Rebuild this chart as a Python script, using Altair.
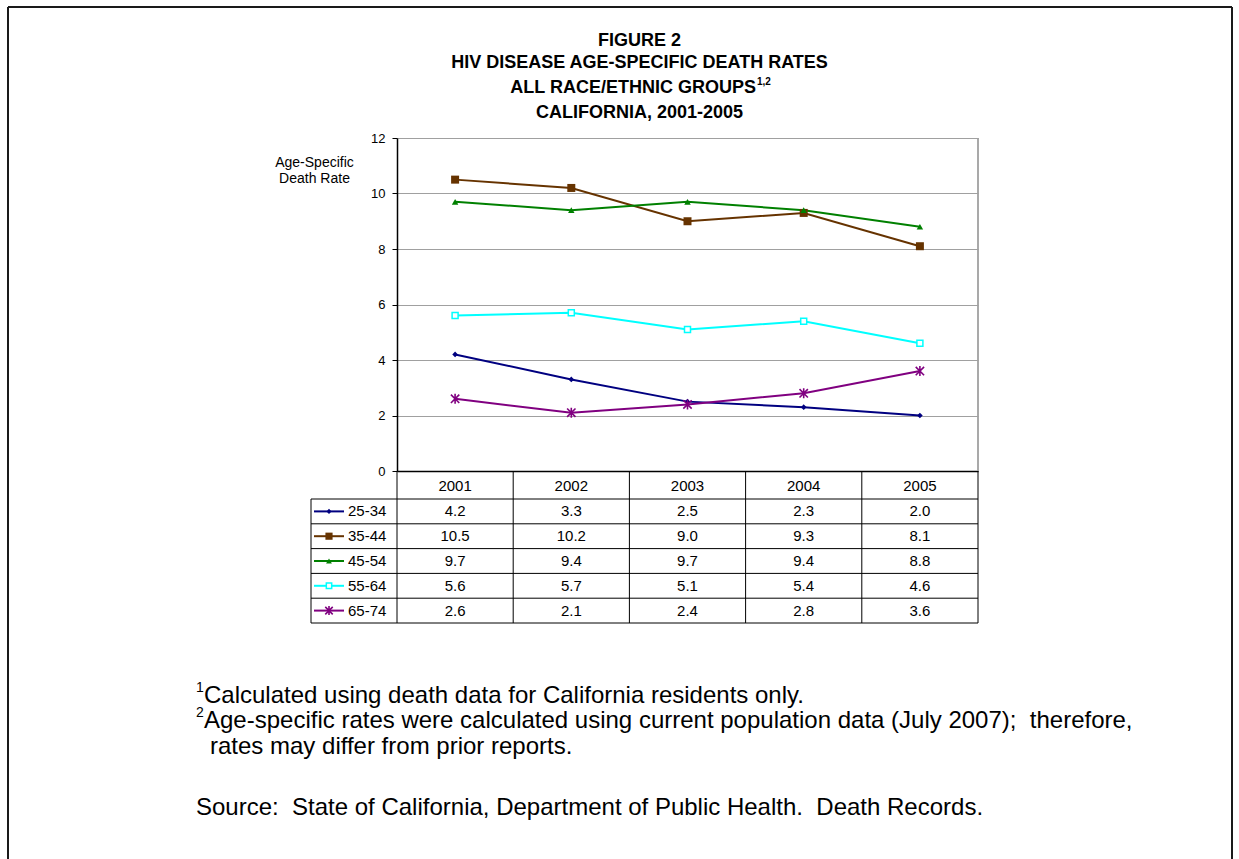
import altair as alt
import pandas as pd

# Age-specific HIV disease death rates, California 2001-2005
years = ["2001", "2002", "2003", "2004", "2005"]
groups = ["25-34", "35-44", "45-54", "55-64", "65-74"]
rate_25_34 = [4.2, 3.3, 2.5, 2.3, 2.0]
rate_35_44 = [10.5, 10.2, 9.0, 9.3, 8.1]
rate_45_54 = [9.7, 9.4, 9.7, 9.4, 8.8]
rate_55_64 = [5.6, 5.7, 5.1, 5.4, 4.6]
rate_65_74 = [2.6, 2.1, 2.4, 2.8, 3.6]
colors = ["#000080", "#663300", "#008000", "#00FFFF", "#800080"]
y_ticks = [0, 2, 4, 6, 8, 10, 12]

series = [rate_25_34, rate_35_44, rate_45_54, rate_55_64, rate_65_74]
df = pd.DataFrame(
    [{"year": y, "group": g, "rate": v}
     for g, vals in zip(groups, series) for y, v in zip(years, vals)]
)
groups_df = pd.DataFrame({"group": groups})
years_df = pd.DataFrame({"year": years})

FONT = "Liberation Sans"
PAGE_W, PAGE_H = 1239, 859
L, T = 397, 138          # plot origin on the page
W, H = 581, 333          # plot area
STEP = W / len(years)

x_scale = alt.Scale(type="point", padding=0.5, domain=years)
x_enc = alt.X(
    "year:O", scale=x_scale,
    axis=alt.Axis(title=None, labels=False, ticks=False, grid=False,
                  domainColor="black", domainWidth=1.5),
)
y_enc = alt.Y(
    "rate:Q", scale=alt.Scale(domain=[0, 12], nice=False),
    axis=alt.Axis(values=y_ticks, title=None, grid=True, gridColor="#A0A0A0",
                  gridWidth=1.2, domainColor="black", domainWidth=1.5,
                  tickColor="black", tickSize=5, labelFont=FONT,
                  labelFontSize=13, labelColor="black", labelPadding=7),
)
color_enc = alt.Color("group:N", scale=alt.Scale(domain=groups, range=colors),
                      legend=None)

ASTERISK = "M-1,-1L1,1M-1,1L1,-1M0,-1.2L0,1.2"
marker_style = {
    "25-34": dict(shape="diamond", size=32, filled=True, color=colors[0]),
    "35-44": dict(shape="square", size=64, filled=True, color=colors[1]),
    "45-54": dict(shape="triangle-up", size=42, filled=True, color=colors[2]),
    "55-64": dict(shape="square", size=36, filled=True, fill="white",
                  stroke=colors[3], strokeWidth=1.5),
    "65-74": dict(shape=ASTERISK, size=70, filled=False, color=colors[4],
                  strokeWidth=1.6),
}

# ---- line chart ----
lines = alt.Chart(df).mark_line(strokeWidth=2).encode(x=x_enc, y=y_enc, color=color_enc)
points = [
    alt.Chart(df[df.group == g]).mark_point(opacity=1, **marker_style[g])
    .encode(x=alt.X("year:O", scale=x_scale), y=alt.Y("rate:Q"))
    for g in groups
]
right_border = alt.Chart(groups_df.head(1)).mark_rule(color="#A0A0A0", strokeWidth=1.8).encode(
    x=alt.value(W), y=alt.value(0), y2=alt.value(H)
)
plot = alt.layer(lines, *points, right_border)

# ---- data table under the plot ----
ROW0, ROW_H = 361.0, 24.8
row_centers = [ROW0 + ROW_H * (i + 0.5) for i in range(len(groups))]
table_y = alt.Y("group:N", axis=None,
                scale=alt.Scale(type="point", domain=groups,
                                range=[row_centers[0], row_centers[-1]], padding=0))

header = alt.Chart(years_df).mark_text(font=FONT, fontSize=15, color="black",
                                       baseline="middle").encode(
    x=alt.X("year:O", scale=x_scale), y=alt.value(H + 15), text="year:N")
values = alt.Chart(df).mark_text(font=FONT, fontSize=15, color="black",
                                 baseline="middle").encode(
    x=alt.X("year:O", scale=x_scale), y=table_y,
    text=alt.Text("rate:Q", format=".1f"))

LEG_X0 = -86
leg_lines = alt.Chart(groups_df).mark_rule(strokeWidth=2).encode(
    x=alt.value(-83), x2=alt.value(-53), y=table_y, color=color_enc)
leg_points = []
for g in groups:
    st = dict(marker_style[g])
    st["size"] = st["size"] * 0.8
    leg_points.append(
        alt.Chart(groups_df[groups_df.group == g]).mark_point(opacity=1, **st)
        .encode(x=alt.value(-68), y=table_y))
leg_labels = alt.Chart(groups_df).mark_text(font=FONT, fontSize=15, color="black",
                                            align="left", baseline="middle").encode(
    x=alt.value(-49), y=table_y, text="group:N")

grid_rules = []
one = groups_df.head(1)
for k in range(len(years) + 1):
    grid_rules.append(alt.Chart(one).mark_rule(color="black", strokeWidth=1).encode(
        x=alt.value(k * STEP), y=alt.value(H), y2=alt.value(ROW0 + ROW_H * len(groups))))
grid_rules.append(alt.Chart(one).mark_rule(color="black", strokeWidth=1).encode(
    x=alt.value(LEG_X0), y=alt.value(ROW0), y2=alt.value(ROW0 + ROW_H * len(groups))))
for i in range(len(groups) + 1):
    grid_rules.append(alt.Chart(one).mark_rule(color="black", strokeWidth=1).encode(
        x=alt.value(LEG_X0), x2=alt.value(W), y=alt.value(ROW0 + ROW_H * i)))

table = alt.layer(header, values, leg_lines, *leg_points, leg_labels, *grid_rules)


# ---- titles, axis caption, notes (page coordinates) ----
def label(text, x, y, size, weight="normal", align="left"):
    return alt.Chart(pd.DataFrame({"t": [text]})).mark_text(
        font=FONT, fontSize=size, fontWeight=weight, align=align,
        baseline="alphabetic", color="black",
    ).encode(x=alt.value(x - L), y=alt.value(y - T), text="t:N")


texts = [
    label("FIGURE 2", 639.5, 46, 18, "bold", "center"),
    label("HIV DISEASE AGE-SPECIFIC DEATH RATES", 639.5, 68, 18, "bold", "center"),
    label("ALL RACE/ETHNIC GROUPS", 756, 93, 18, "bold", "right"),
    label("1,2", 757, 85, 10, "bold", "left"),
    label("CALIFORNIA, 2001-2005", 639.5, 118, 18, "bold", "center"),
    label("Age-Specific", 314.5, 167, 14, "normal", "center"),
    label("Death Rate", 314.5, 183, 14, "normal", "center"),
    label("1", 196, 692, 14),
    label("Calculated using death data for California residents only.", 204, 703, 24),
    label("2", 196, 717, 14),
    label("Age-specific rates were calculated using current population data "
          "(July 2007);\u00a0 therefore,", 204, 728, 24),
    label("rates may differ from prior reports.", 210, 754, 24),
    label("Source:\u00a0 State of California, Department of Public Health.\u00a0 "
          "Death Records.", 196, 815, 24),
]

# outer frame (open at the bottom)
frame_src = pd.DataFrame({"t": ["frame"]})
frame = [
    alt.Chart(frame_src).mark_rule(color="#1a1a1a", strokeWidth=2).encode(
        x=alt.value(8 - L), y=alt.value(7 - T), y2=alt.value(PAGE_H - T)),
    alt.Chart(frame_src).mark_rule(color="#1a1a1a", strokeWidth=2).encode(
        x=alt.value(1232 - L), y=alt.value(7 - T), y2=alt.value(PAGE_H - T)),
    alt.Chart(frame_src).mark_rule(color="#1a1a1a", strokeWidth=2).encode(
        x=alt.value(8 - L), x2=alt.value(1232 - L), y=alt.value(7 - T)),
]

chart = (
    alt.layer(plot, table, *texts, *frame)
    .resolve_scale(y="independent")
    .properties(
        width=W, height=H,
        padding={"left": L, "top": T, "right": PAGE_W - L - W, "bottom": PAGE_H - T - H},
        autosize=alt.AutoSizeParams(type="none"),
        background="white",
    )
    .configure_view(stroke=None)
)

chart.save("out.html", embed_options={"renderer": "svg", "actions": False})
